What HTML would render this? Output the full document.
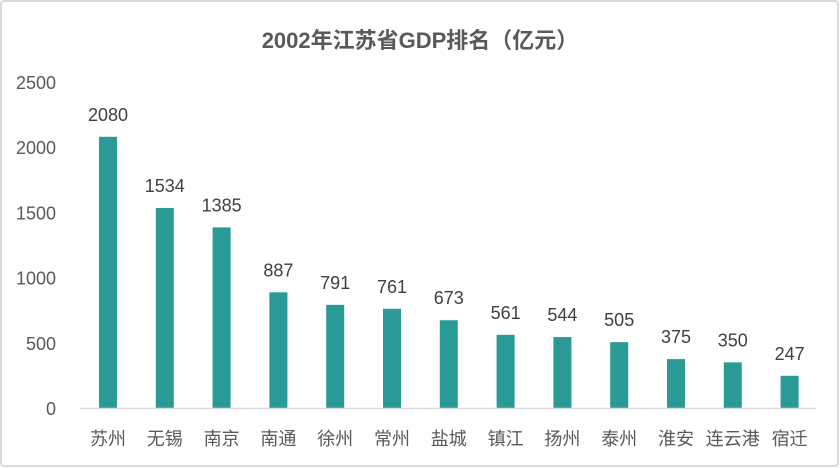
<!DOCTYPE html>
<html><head><meta charset="utf-8"><style>
body{margin:0;background:#fff}
svg{display:block;font-family:"Liberation Sans","Noto Sans CJK SC",sans-serif}
</style></head><body>
<svg id="c" width="840" height="468">
<rect x="1" y="1" width="837" height="465" rx="3" fill="#fff" stroke="#d9d9d9" stroke-width="2"/>
<text x="420" y="48" text-anchor="middle" font-size="22" font-weight="bold" fill="#595959">2002年江苏省GDP排名（亿元）</text>
<g id="g"></g>
</svg>
<script>
const categories=["苏州","无锡","南京","南通","徐州","常州","盐城","镇江","扬州","泰州","淮安","连云港","宿迁"];
const values=[2080,1534,1385,887,791,761,673,561,544,505,375,350,247];
const ticks=[0,500,1000,1500,2000,2500];
const NS="http://www.w3.org/2000/svg";
const g=document.getElementById('g');
const y=v=>408-v*(326/2500);
const x=i=>108+i*56.8;
function mk(t,a){const e=document.createElementNS(NS,t);for(const k in a)e.setAttribute(k,a[k]);g.appendChild(e);return e;}
ticks.forEach(t=>{const e=mk('text',{x:56,y:y(t)+7,'text-anchor':'end','font-size':18,fill:'#595959'});e.textContent=t;

});
values.forEach((v,i)=>{
const r=mk('rect',{x:x(i)-9,y:y(v),width:18,height:408-y(v),fill:'#2a9a97'});


const l=mk('text',{x:x(i),y:y(v)-16,'text-anchor':'middle','font-size':18,fill:'#404040'});l.textContent=v;


const c=mk('text',{x:x(i),y:445,'text-anchor':'middle','font-size':18,fill:'#595959'});c.textContent=categories[i];


});
const ax=mk('line',{x1:80,x2:816,y1:408.5,y2:408.5,stroke:'#d9d9d9','stroke-width':1.5});


</script>
</body></html>
